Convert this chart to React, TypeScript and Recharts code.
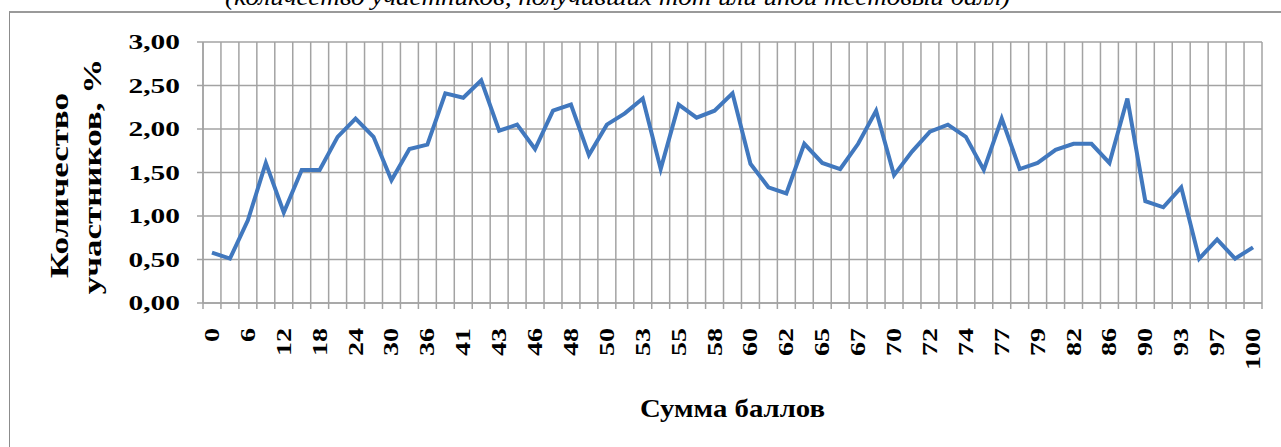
import React from 'react';
import { LineChart, Line, XAxis, YAxis, CartesianGrid, Label } from 'recharts';

// Сумма баллов (every other one is printed on the axis)
const scores = [
  '0', '3', '6', '9', '12', '15', '18', '21', '24', '27',
  '30', '33', '36', '39', '41', '42', '43', '45', '46', '47',
  '48', '49', '50', '52', '53', '54', '55', '57', '58', '59',
  '60', '61', '62', '64', '65', '66', '67', '69', '70', '71',
  '72', '73', '74', '76', '77', '78', '79', '81', '82', '84',
  '86', '88', '90', '91', '93', '95', '97', '99', '100',
];

// Количество участников, %
const shares = [
  0.58, 0.51, 0.95, 1.61, 1.04, 1.53, 1.53, 1.91, 2.12, 1.91,
  1.41, 1.77, 1.82, 2.41, 2.36, 2.56, 1.98, 2.05, 1.77, 2.21,
  2.28, 1.70, 2.05, 2.18, 2.35, 1.54, 2.28, 2.13, 2.21, 2.41,
  1.60, 1.33, 1.26, 1.83, 1.61, 1.54, 1.83, 2.21, 1.47, 1.74,
  1.97, 2.05, 1.91, 1.53, 2.12, 1.54, 1.61, 1.76, 1.83, 1.83,
  1.61, 2.35, 1.17, 1.10, 1.33, 0.51, 0.73, 0.51, 0.64,
];

const yTicks = [0, 0.5, 1, 1.5, 2, 2.5, 3];

const data = scores.map((s, i) => ({ idx: i, score: s, share: shares[i] }));
const labelTicks = scores.map((_, i) => i).filter((i) => i % 2 === 0);
const boundaries = [...scores.map((_, i) => i - 0.5), scores.length - 0.5];
const xDomain = [-0.5, scores.length - 0.5];

const FONT = '"Liberation Serif", "Times New Roman", serif';
const GRID = '#a3a3a3';
const STRETCH = 1.4;

const YTick = (props: any) => {
  const { x, y, payload } = props;
  return (
    <g transform={`translate(${x},${y})`}>
      <text transform={`scale(${STRETCH},1)`} textAnchor="end" dy="0.35em"
        fontFamily={FONT} fontWeight="bold" fontSize={21} fill="#000">
        {Number(payload.value).toFixed(2).replace('.', ',')}
      </text>
    </g>
  );
};

const XTick = (props: any) => {
  const { x, y, payload } = props;
  return (
    <g transform={`translate(${x},${y})`}>
      <text transform={`rotate(-90) scale(${STRETCH},1)`} textAnchor="end" dy="0.35em"
        fontFamily={FONT} fontWeight="bold" fontSize={20} fill="#000">
        {scores[payload.value]}
      </text>
    </g>
  );
};

const YTitle = (props: any) => {
  const { viewBox } = props;
  const cy = viewBox.y + viewBox.height / 2;
  return (
    <g fontFamily={FONT} fontWeight="bold" fontSize={25} fill="#000">
      <text transform={`translate(68,${cy + 13}) rotate(-90) scale(${STRETCH},1)`} textAnchor="middle">
        Количество
      </text>
      <text transform={`translate(101,${cy + 4}) rotate(-90) scale(${STRETCH},1)`} textAnchor="middle">
        участников, %
      </text>
    </g>
  );
};

const XTitle = (props: any) => {
  const { viewBox } = props;
  return (
    <text x={viewBox.x + viewBox.width / 2} y={viewBox.y + 113} textAnchor="middle"
      fontFamily={FONT} fontWeight="bold" fontSize={25} fill="#000"
      textLength={185} lengthAdjust="spacingAndGlyphs">
      Сумма баллов
    </text>
  );
};

export default function App() {
  return (
    <div style={{ position: 'absolute', left: 0, top: 0, width: 1281, height: 447, overflow: 'hidden', background: '#fff' }}>
      {/* clipped caption from the page above */}
      <svg width={1281} height={12} style={{ position: 'absolute', left: 0, top: 0 }}>
        <text x={225} y={5} fontFamily={FONT} fontStyle="italic" fontSize={24} fill="#000"
          textLength={785} lengthAdjust="spacingAndGlyphs">
          (количество участников, получивших тот или иной тестовый балл)
        </text>
      </svg>
      <div style={{ position: 'absolute', left: 9, top: 11, width: 1400, height: 600, borderLeft: '1px solid #8c8c8c', borderTop: '2px solid #9a9a9a' }} />
      <div style={{ position: 'absolute', left: 0, top: 0 }}>
        <LineChart width={1281} height={447} data={data}
          margin={{ top: 42, right: 19, bottom: 142, left: 0 }}>
          <CartesianGrid xAxisId="grid" stroke={GRID} strokeWidth={1.5} />
          <XAxis xAxisId="grid" type="number" dataKey="idx" domain={xDomain} ticks={boundaries}
            interval={0} height={1} tickFormatter={() => ''} tickSize={6}
            axisLine={{ stroke: GRID, strokeWidth: 1.5 }} tickLine={{ stroke: GRID, strokeWidth: 1.5 }} />
          <XAxis xAxisId="lab" type="number" dataKey="idx" domain={xDomain} ticks={labelTicks}
            interval={0} height={1} axisLine={false} tickLine={false} tickSize={0} tickMargin={24}
            tick={<XTick />}>
            <Label content={<XTitle />} />
          </XAxis>
          <YAxis domain={[0, 3]} ticks={yTicks} width={203} interval={0} tickSize={6} tickMargin={17}
            axisLine={{ stroke: GRID, strokeWidth: 1.5 }} tickLine={{ stroke: GRID, strokeWidth: 1.5 }}
            tick={<YTick />}>
            <Label content={<YTitle />} />
          </YAxis>
          <Line xAxisId="lab" type="linear" dataKey="share" stroke="#4178be" strokeWidth={4}
            dot={false} activeDot={false} isAnimationActive={false} strokeLinejoin="miter" />
        </LineChart>
      </div>
    </div>
  );
}
